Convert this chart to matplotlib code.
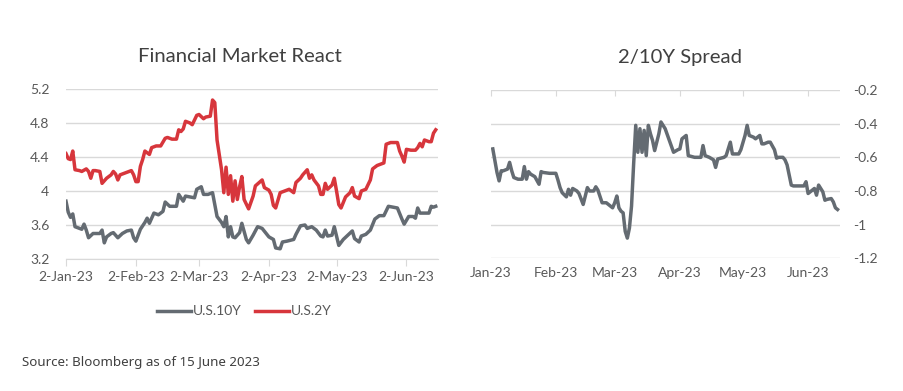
import matplotlib
matplotlib.use('Agg')
import matplotlib.pyplot as plt
import matplotlib.dates as mdates
from matplotlib.ticker import FuncFormatter, FixedLocator
import pandas as pd

# U.S. 2Y yield (red)
y2_days = ['01-02', '01-03', '01-04', '01-05', '01-06', '01-08', '01-09', '01-11', '01-12', '01-13',
           '01-14', '01-15', '01-17', '01-18', '01-20', '01-22', '01-23', '01-24', '01-25', '01-26',
           '01-29', '01-31',
           '02-01', '02-02', '02-03', '02-04', '02-05', '02-06', '02-08', '02-09', '02-11', '02-13',
           '02-15', '02-16', '02-18', '02-20', '02-21', '02-22', '02-23', '02-24', '02-26', '02-27',
           '03-01', '03-02', '03-04', '03-05', '03-07', '03-08', '03-09', '03-10', '03-12', '03-13',
           '03-14', '03-15', '03-16', '03-17', '03-18', '03-19', '03-20', '03-21', '03-22', '03-24',
           '03-26', '03-27', '03-30', '03-31',
           '04-02', '04-03', '04-04', '04-05', '04-07', '04-09', '04-11', '04-13', '04-14', '04-16',
           '04-17', '04-19', '04-20', '04-21', '04-22', '04-24', '04-25', '04-26', '04-27', '04-28',
           '04-30',
           '05-01', '05-02', '05-03', '05-04', '05-06', '05-08', '05-09', '05-10', '05-12', '05-13',
           '05-15', '05-17', '05-18', '05-20', '05-23', '05-24', '05-26', '05-29', '05-30', '05-31',
           '06-01', '06-02', '06-04', '06-06', '06-07', '06-08', '06-09', '06-10', '06-12', '06-13',
           '06-14', '06-15']
y2_vals = [4.44, 4.38, 4.37, 4.47, 4.25, 4.24, 4.23, 4.26, 4.23, 4.15,
           4.24, 4.24, 4.23, 4.09, 4.15, 4.19, 4.23, 4.20, 4.13, 4.19,
           4.22, 4.24,
           4.19, 4.11, 4.11, 4.29, 4.37, 4.47, 4.43, 4.51, 4.53, 4.53,
           4.62, 4.63, 4.61, 4.61, 4.72, 4.70, 4.73, 4.82, 4.80, 4.78,
           4.89, 4.90, 4.85, 4.87, 4.88, 5.07, 5.04, 4.60, 4.25, 3.98,
           4.28, 3.96, 4.18, 3.88, 4.12, 3.90, 4.05, 4.17, 3.90, 3.79,
           3.94, 4.06, 4.13, 4.04,
           4.01, 3.96, 3.83, 3.80, 3.98, 4.00, 4.02, 3.98, 4.10, 4.15,
           4.19, 4.25, 4.15, 4.19, 4.13, 4.06, 3.96, 3.96, 4.09, 4.02,
           4.07,
           4.15, 4.00, 3.84, 3.80, 3.93, 3.98, 4.04, 3.94, 3.91, 4.00,
           4.02, 4.13, 4.26, 4.30, 4.33, 4.55, 4.57, 4.57, 4.47, 4.41,
           4.34, 4.49, 4.48, 4.48, 4.51, 4.56, 4.52, 4.60, 4.58, 4.58,
           4.68, 4.72]

# U.S. 10Y yield (grey)
y10_days = ['01-02', '01-03', '01-04', '01-05', '01-06', '01-08', '01-09', '01-10', '01-11', '01-12',
            '01-14', '01-15', '01-17', '01-18', '01-19', '01-20', '01-22', '01-23', '01-25', '01-27',
            '01-29', '01-31',
            '02-01', '02-02', '02-04', '02-06', '02-07', '02-08', '02-10', '02-12', '02-14', '02-15',
            '02-17', '02-20', '02-21', '02-23', '02-24', '02-26', '02-28',
            '03-01', '03-03', '03-04', '03-06', '03-08', '03-09', '03-10', '03-12', '03-13', '03-14',
            '03-15', '03-16', '03-17', '03-18', '03-20', '03-21', '03-23', '03-24', '03-26', '03-28',
            '03-30',
            '04-02', '04-04', '04-05', '04-07', '04-08', '04-10', '04-13', '04-14', '04-16', '04-18',
            '04-19', '04-21', '04-23', '04-25', '04-26', '04-27', '04-28', '04-30',
            '05-01', '05-02', '05-03', '05-05', '05-07', '05-09', '05-10', '05-12', '05-13', '05-15',
            '05-17', '05-19', '05-21', '05-23', '05-25', '05-27', '05-29', '05-31',
            '06-01', '06-03', '06-05', '06-06', '06-07', '06-08', '06-11', '06-12', '06-13', '06-14',
            '06-15']
y10_vals = [3.88, 3.75, 3.69, 3.73, 3.58, 3.56, 3.55, 3.61, 3.54, 3.45,
            3.50, 3.50, 3.50, 3.54, 3.39, 3.46, 3.50, 3.51, 3.45, 3.50,
            3.53, 3.54,
            3.45, 3.41, 3.55, 3.63, 3.68, 3.62, 3.74, 3.72, 3.76, 3.87,
            3.82, 3.82, 3.96, 3.88, 3.94, 3.93, 3.92,
            4.02, 4.05, 3.96, 3.96, 3.98, 3.84, 3.70, 3.63, 3.58, 3.70,
            3.46, 3.58, 3.46, 3.45, 3.51, 3.62, 3.43, 3.39, 3.48, 3.58,
            3.56,
            3.46, 3.43, 3.33, 3.32, 3.40, 3.41, 3.43, 3.49, 3.59, 3.60,
            3.56, 3.58, 3.54, 3.47, 3.46, 3.54, 3.47, 3.48,
            3.58, 3.47, 3.36, 3.43, 3.48, 3.53, 3.44, 3.40, 3.47, 3.49,
            3.54, 3.67, 3.71, 3.71, 3.82, 3.81, 3.80, 3.67,
            3.61, 3.70, 3.70, 3.68, 3.80, 3.74, 3.74, 3.74, 3.82, 3.81,
            3.82]

# 2/10Y spread
sp_days = ['01-02', '01-03', '01-04', '01-05', '01-06', '01-07', '01-09', '01-10', '01-11', '01-12',
           '01-14', '01-16', '01-17', '01-18', '01-19', '01-20', '01-22', '01-24', '01-25', '01-26',
           '01-29',
           '02-01', '02-02', '02-03', '02-04', '02-06', '02-07', '02-08', '02-09', '02-11', '02-12',
           '02-14', '02-15', '02-16', '02-17', '02-19', '02-20', '02-21', '02-23', '02-25', '02-26',
           '02-28',
           '03-01', '03-02', '03-03', '03-04', '03-05', '03-06', '03-07', '03-08', '03-09', '03-10',
           '03-11', '03-12', '03-13', '03-14', '03-15', '03-16', '03-17', '03-18', '03-19', '03-20',
           '03-22', '03-23', '03-25', '03-27', '03-29', '03-31',
           '04-01', '04-02', '04-04', '04-05', '04-08', '04-11', '04-12', '04-13', '04-15', '04-17',
           '04-18', '04-19', '04-22', '04-23', '04-25', '04-26', '04-29', '04-30',
           '05-02', '05-03', '05-04', '05-06', '05-07', '05-09', '05-10', '05-11', '05-13', '05-14',
           '05-16', '05-17', '05-18', '05-20', '05-21', '05-22', '05-24', '05-25', '05-28', '05-30',
           '05-31',
           '06-01', '06-03', '06-04', '06-05', '06-06', '06-08', '06-09', '06-10', '06-12', '06-13',
           '06-14', '06-15']
sp_vals = [-0.55, -0.62, -0.69, -0.74, -0.68, -0.68, -0.67, -0.63, -0.68, -0.72,
           -0.73, -0.73, -0.655, -0.73, -0.685, -0.70, -0.715, -0.76, -0.685, -0.69,
           -0.695,
           -0.695, -0.735, -0.78, -0.81, -0.835, -0.79, -0.825, -0.785, -0.80, -0.815,
           -0.88, -0.83, -0.78, -0.80, -0.80, -0.775, -0.795, -0.87, -0.87, -0.88,
           -0.90,
           -0.87, -0.83, -0.90, -0.92, -0.93, -1.04, -1.08, -1.02, -0.89, -0.64,
           -0.41, -0.57, -0.43, -0.57, -0.44, -0.59, -0.41, -0.46, -0.50, -0.56,
           -0.46, -0.39, -0.43, -0.50, -0.57, -0.555,
           -0.55, -0.49, -0.47, -0.59, -0.60, -0.60, -0.53, -0.59, -0.60, -0.615,
           -0.66, -0.61, -0.60, -0.59, -0.51, -0.58, -0.58, -0.555,
           -0.47, -0.41, -0.47, -0.48, -0.49, -0.47, -0.52, -0.52, -0.51, -0.51,
           -0.555, -0.605, -0.60, -0.60, -0.615, -0.645, -0.765, -0.77, -0.77, -0.77,
           -0.745,
           -0.815, -0.795, -0.785, -0.825, -0.765, -0.805, -0.855, -0.85, -0.845, -0.865,
           -0.90, -0.91]

left_ticks = ['2023-01-02', '2023-02-02', '2023-03-02', '2023-04-02', '2023-05-02', '2023-06-02']
right_ticks = ['2023-01-01', '2023-02-01', '2023-03-01', '2023-04-01', '2023-05-01', '2023-06-01']

def to_dates(days):
    return pd.to_datetime(['2023-' + d for d in days])

GREY = '#646b72'
RED = '#d7363c'
GRID = '#d9d9d9'
TXT = '#595959'

plt.rcParams['font.family'] = ['Lato', 'DejaVu Sans']

fig = plt.figure(figsize=(9.04, 3.91), dpi=100)
fmt = FuncFormatter(lambda v, p: '{:g}'.format(round(v, 2)))

# left chart
ax1 = fig.add_axes([0.073, 0.3376, 0.4115, 0.4348])
ax1.plot(to_dates(y10_days), y10_vals, color=GREY, lw=2.5, label='U.S.10Y')
ax1.plot(to_dates(y2_days), y2_vals, color=RED, lw=2.5, label='U.S.2Y')
ax1.set_ylim(3.2, 5.2)
ax1.yaxis.set_major_locator(FixedLocator([3.2, 3.6, 4.0, 4.4, 4.8, 5.2]))
ax1.yaxis.set_major_formatter(fmt)
ax1.set_xlim(pd.Timestamp('2023-01-02'), pd.Timestamp('2023-06-16'))
ax1.set_xticks(pd.to_datetime(left_ticks))
ax1.xaxis.set_major_formatter(FuncFormatter(
    lambda v, p: mdates.num2date(v).strftime('%-d-%b-%y')))
ax1.grid(axis='y', color=GRID, lw=1)
ax1.set_axisbelow(True)
for s in ['top', 'right', 'left']:
    ax1.spines[s].set_visible(False)
ax1.spines['bottom'].set_color(GRID)
ax1.tick_params(axis='y', length=0, pad=12, labelsize=10, labelcolor=TXT)
ax1.tick_params(axis='x', length=5, color=GRID, pad=4, labelsize=10, labelcolor=TXT)
ax1.legend(loc='upper center', bbox_to_anchor=(0.48, -0.2), ncol=2, frameon=False,
           fontsize=10, handlelength=2.4, handletextpad=0.15, columnspacing=1.0,
           labelcolor=TXT)

# right chart
ax2 = fig.add_axes([0.5428, 0.3394, 0.386, 0.4304])
ax2.plot(to_dates(sp_days), sp_vals, color=GREY, lw=2.5)
ax2.set_ylim(-1.2, -0.2)
ax2.yaxis.set_major_locator(FixedLocator([-1.2, -1.0, -0.8, -0.6, -0.4, -0.2]))
ax2.yaxis.set_major_formatter(fmt)
ax2.yaxis.tick_right()
ax2.set_xlim(pd.Timestamp('2023-01-01'), pd.Timestamp('2023-06-16'))
ax2.set_xticks(pd.to_datetime(right_ticks))
ax2.xaxis.set_major_formatter(mdates.DateFormatter('%b-%y'))
ax2.grid(axis='y', color=GRID, lw=1)
ax2.set_axisbelow(True)
for s in ax2.spines.values():
    s.set_visible(False)
ax2.tick_params(axis='y', length=0, pad=10, labelsize=10, labelcolor=TXT)
ax2.tick_params(axis='x', bottom=False, top=True, direction='in', length=4,
                color=GRID, pad=6, labelsize=10, labelcolor=TXT)

# titles
fig.text(240 / 904, 1 - 57 / 391, 'Financial Market React', fontsize=14.6,
         color='#404040', ha='center', va='center')
fig.text(680 / 904, 1 - 57 / 391, '2/10Y Spread', fontsize=14.6,
         color='#404040', ha='center', va='center')

fig.text(0.024, 0.064, 'Source: Bloomberg as of 15 June 2023', fontsize=9.6,
         color='#404040', family=['Noto Sans', 'DejaVu Sans'])

fig.savefig('out.png', dpi=100)
